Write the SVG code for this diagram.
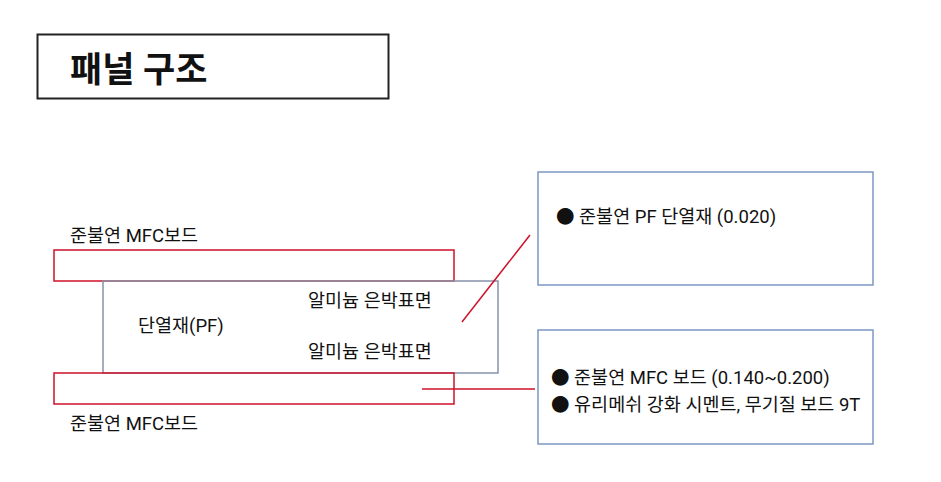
<svg xmlns="http://www.w3.org/2000/svg" width="941" height="482" viewBox="0 0 941 482">
<style>
text{font-family:Roboto,"Noto Sans CJK KR",sans-serif;fill:#111;font-size:18.5px}
.title{font-size:35px;font-weight:bold}
.red{fill:none;stroke:#d0102a;stroke-width:1.5}
.gray{fill:none;stroke:#8693aa;stroke-width:1.5}
.blue{fill:none;stroke:#7b97c4;stroke-width:1.5}
.lead{stroke:#d0102a;stroke-width:1.5;fill:none}
</style>
<rect width="941" height="482" fill="#fff"/>
<g id="title">
<rect x="37.5" y="34.5" width="351" height="64" fill="none" stroke="#222" stroke-width="2"/>
<text class="title" x="70" y="82">패널 구조</text>
</g>
<g id="top-board">
<rect class="red" x="54" y="250" width="400" height="31"/>
<text x="70" y="242">준불연 MFC보드</text>
</g>
<g id="insulation">
<rect class="gray" x="103" y="281" width="395" height="92"/>
<text x="308" y="307">알미늄 은박표면</text>
<text x="138" y="332">단열재(PF)</text>
<text x="308" y="358">알미늄 은박표면</text>
</g>
<g id="bottom-board">
<rect class="red" x="54" y="373" width="400" height="31"/>
<text x="70" y="430">준불연 MFC보드</text>
</g>
<g id="note-pf">
<rect class="blue" x="538" y="172" width="335" height="113"/>
<text x="556" y="223">● 준불연 PF 단열재 (0.020)</text>
</g>
<g id="note-mfc">
<rect class="blue" x="538" y="330" width="335" height="114"/>
<text x="551" y="384">● 준불연 MFC 보드 (0.140~0.200)</text>
<text x="551" y="411">● 유리메쉬 강화 시멘트, 무기질 보드 9T</text>
</g>
<g id="connectors">
<line class="lead" x1="462" y1="322" x2="530" y2="235"/>
<line class="lead" x1="422" y1="389" x2="535" y2="389"/>
</g>
</svg>
